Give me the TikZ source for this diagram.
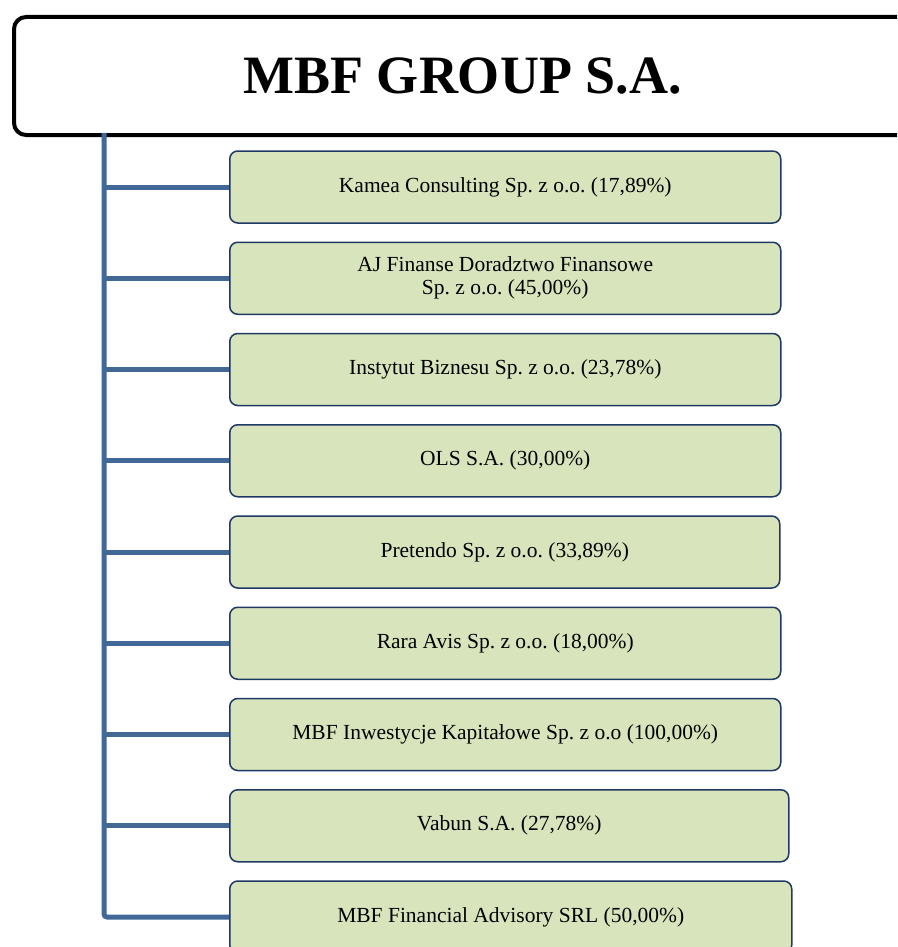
\documentclass[tikz,border=0pt]{standalone}
\usepackage{fontspec}
\setmainfont{Liberation Serif}
\usetikzlibrary{positioning}
\frenchspacing

\definecolor{trunkblue}{RGB}{66,104,152}
\definecolor{unitfill}{RGB}{216,228,188}
\definecolor{unitline}{RGB}{31,56,100}

\tikzset{
  unit/.style={draw=unitline, fill=unitfill, line width=1.5pt, rounded corners=8pt,
    anchor=west, minimum width=551pt, minimum height=72pt, inner sep=0pt,
    align=center, font=\fontsize{21.5}{23}\selectfont},
  link/.style={draw=trunkblue, line width=5pt},
  headline/.style={font=\fontsize{54}{60}\bfseries\selectfont}
}

\begin{document}
\begin{tikzpicture}[x=1pt, y=-1pt]
\clip (0,0) rectangle (897,947);
\fill[white] (0,0) rectangle (897,947);

% parent company
\node[draw, line width=4pt, rounded corners=12pt, fill=white, anchor=north west,
  minimum width=910pt, minimum height=118pt] (group) at (12,15) {};
\node[headline] (title) at (462.5,76) {MBF GROUP S.A.};
\coordinate (trunk) at (104,133);

% subsidiaries
\node[unit] (u1) at (229,187) {Kamea Consulting Sp. z o.o. (17,89\%)};
\node[unit] (u2) at (229,278.25) {AJ Finanse Doradztwo Finansowe\\Sp. z o.o. (45,00\%)};
\node[unit] (u3) at (229,369.5) {Instytut Biznesu Sp. z o.o. (23,78\%)};
\node[unit] (u4) at (229,460.75) {OLS S.A. (30,00\%)};
\node[unit, minimum width=550pt] (u5) at (229,552) {Pretendo Sp. z o.o. (33,89\%)};
\node[unit] (u6) at (229,643.25) {Rara Avis Sp. z o.o. (18,00\%)};
\node[unit] (u7) at (229,734.5) {MBF Inwestycje Kapitałowe Sp. z o.o (100,00\%)};
\node[unit, minimum width=559pt] (u8) at (229,825.75) {Vabun S.A. (27,78\%)};
\node[unit, minimum width=562pt] (u9) at (229,917) {MBF Financial Advisory SRL (50,00\%)};

% connectors
\draw[link, rounded corners=3pt] (trunk) |- (u9.west);
\draw[link] (u1.west -| trunk) -- (u1.west);
\draw[link] (u2.west -| trunk) -- (u2.west);
\draw[link] (u3.west -| trunk) -- (u3.west);
\draw[link] (u4.west -| trunk) -- (u4.west);
\draw[link] (u5.west -| trunk) -- (u5.west);
\draw[link] (u6.west -| trunk) -- (u6.west);
\draw[link] (u7.west -| trunk) -- (u7.west);
\draw[link] (u8.west -| trunk) -- (u8.west);
\end{tikzpicture}
\end{document}
